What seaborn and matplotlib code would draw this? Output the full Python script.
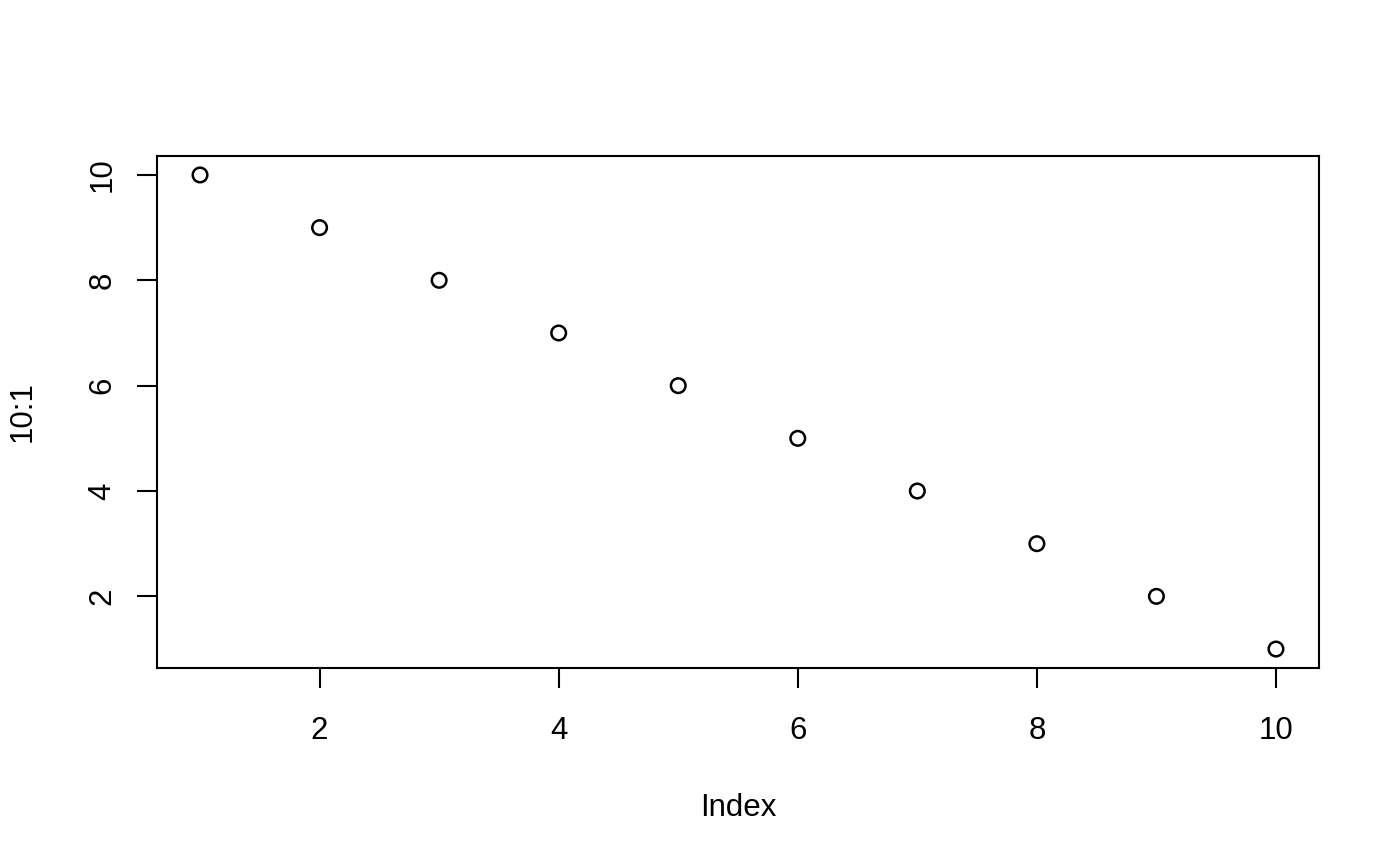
import matplotlib
matplotlib.use("Agg")
import matplotlib.pyplot as plt
import seaborn as sns
import pandas as pd

index = [1, 2, 3, 4, 5, 6, 7, 8, 9, 10]
values = [10, 9, 8, 7, 6, 5, 4, 3, 2, 1]
x_ticks = [2, 4, 6, 8, 10]
y_ticks = [2, 4, 6, 8, 10]

sns.set_theme(style="white")
plt.rcParams['font.family'] = ['Liberation Sans', 'DejaVu Sans']

df = pd.DataFrame({"Index": index, "10:1": values})

fig = plt.figure(figsize=(14, 8.65), dpi=100)
ax = fig.add_axes([157/1400, 1-668/865, (1319-157)/1400, (668-156)/865])
sns.scatterplot(data=df, x="Index", y="10:1", ax=ax, marker="o", s=110,
                facecolors="none", edgecolor="black", linewidth=1.8)
ax.set_xlim(0.64, 10.36)
ax.set_ylim(0.64, 10.36)
ax.set_xticks(x_ticks)
ax.set_yticks(y_ticks)
for sp in ax.spines.values():
    sp.set_visible(True)
    sp.set_color("black")
    sp.set_linewidth(1.5)
ax.tick_params(axis="both", direction="out", length=14.4, width=1.5, color="black",
               labelsize=22.5, labelcolor="black", bottom=True, left=True)
ax.tick_params(axis="x", pad=20)
ax.tick_params(axis="y", pad=14)
for lab in ax.get_yticklabels():
    lab.set_rotation(90)
    lab.set_va("center")
ax.set_xlabel("Index", fontsize=22.5, color="black", labelpad=34)
ax.set_ylabel("10:1", fontsize=22.5, color="black", labelpad=36)
fig.savefig("out.png", dpi=100, facecolor="white")
